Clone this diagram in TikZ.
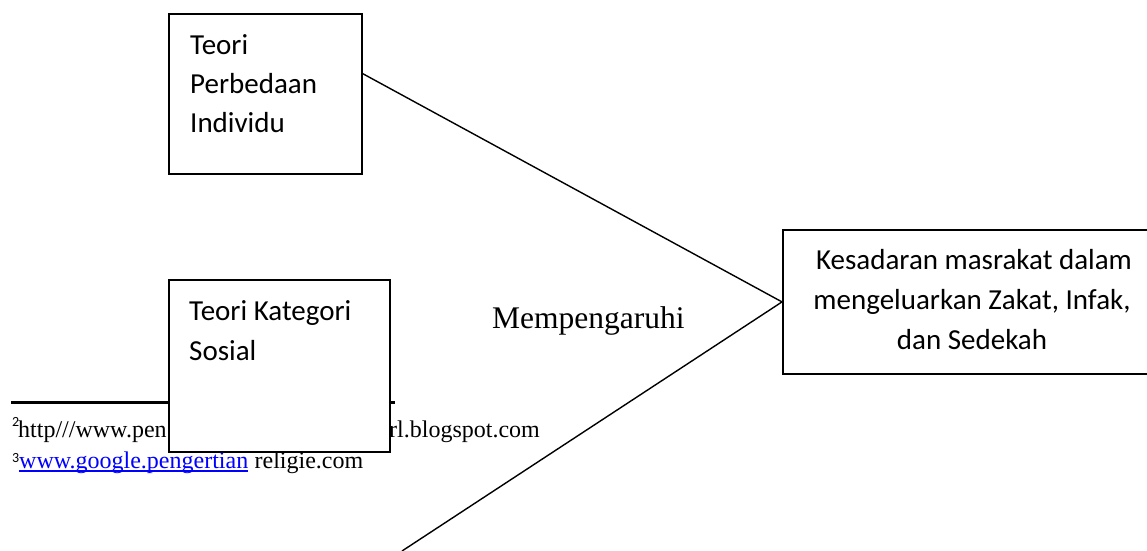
\documentclass[tikz,border=0pt]{standalone}
\usepackage{fontspec}
\setmainfont{Liberation Serif}
\newfontfamily\carl{Carlito}
\usetikzlibrary{calc}
\begin{document}
\begin{tikzpicture}[x=1pt,y=-1pt,
  box/.style={draw, line width=1.8pt, fill=white, inner sep=0pt, anchor=north west},
  lbl/.style={font=\carl\fontsize{29}{29}\selectfont, anchor=base west, inner sep=0pt},
  clbl/.style={font=\carl\fontsize{29}{29}\selectfont, anchor=base, inner sep=0pt},
  conn/.style={line width=1.4pt},
  fn/.style={font=\fontsize{24}{24}\selectfont, anchor=base west, inner sep=0pt},
  fnsup/.style={font=\carl\fontsize{14}{14}\selectfont, anchor=base west, inner sep=0pt}]
\useasboundingbox (0,0) rectangle (1147,550);

% footnotes (partly hidden behind box 2)
\coordinate (r1) at (11,402);
\coordinate (r2) at (395,402);
\draw[line width=3pt] (r1) -- (r2);
\node[fnsup] (s2) at (12,426) {2};
\node[fn] (f2a) at (18,437) {http///www.pen};
\node[fn] (f2b) at (389,437) {rl.blogspot.com};
\node[fnsup] (s3) at (12,462) {3};
\node[fn, text=blue] (f3a) at (19,468) {www.google.pengertian};
\draw[blue, line width=1.5pt] ([yshift=-3pt]f3a.base west) -- ([yshift=-3pt]f3a.base east);
\node[fn] (f3b) at ([xshift=6pt]f3a.base east) {religie.com};

% boxes
\node[box, minimum width=193pt, minimum height=160pt] (b1) at (168,13) {};
\node[lbl] (t1a) at (190,54) {Teori};
\node[lbl] (t1b) at (190,93) {Perbedaan};
\node[lbl] (t1c) at (190,132) {Individu};

\node[box, minimum width=221pt, minimum height=172pt] (b2) at (168,279) {};
\node[lbl] (t2a) at (189,320) {Teori Kategori};
\node[lbl] (t2b) at (189,360) {Sosial};

\node[box, minimum width=380pt, minimum height=144pt] (b3) at (782,229) {};
\node[clbl] (t3a) at (974,269) {Kesadaran masrakat dalam};
\node[clbl] (t3b) at (972,309) {mengeluarkan Zakat, Infak,};
\node[clbl] (t3c) at (972,349) {dan Sedekah};

% connectors
\coordinate (j) at (b3.west);
\coordinate (e2) at (402,551);
\draw[conn] ($(b1.north east)!0.375!(b1.south east)$) -- (j);
\draw[conn] (j) -- (e2);

\node[font=\fontsize{31.5}{31.5}\selectfont, anchor=base west, inner sep=0pt] (m) at (492,328) {Mempengaruhi};
\end{tikzpicture}
\end{document}
